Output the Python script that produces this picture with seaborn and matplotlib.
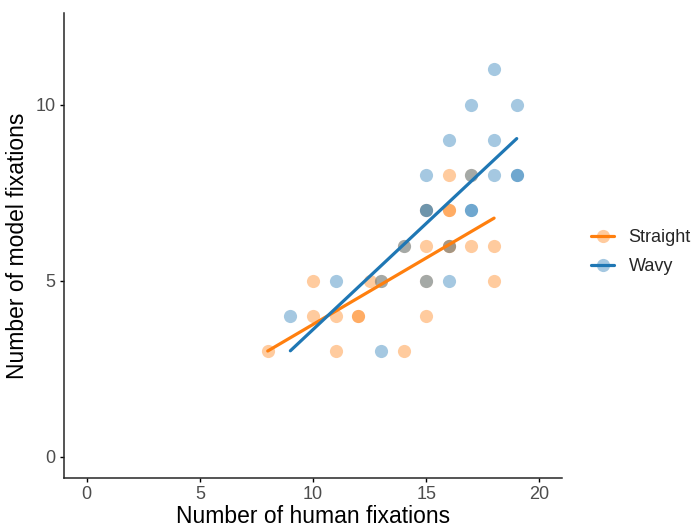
import matplotlib
matplotlib.use("Agg")
import matplotlib.pyplot as plt
import seaborn as sns
import pandas as pd
from matplotlib.lines import Line2D

straight_x = [8, 11, 14, 10, 11, 12, 12, 15, 10, 12.5, 13, 15, 18, 14, 15, 16, 16, 17, 18, 15, 16, 16, 16, 17]
straight_y = [3, 3, 3, 4, 4, 4, 4, 4, 5, 5, 5, 5, 5, 6, 6, 6, 6, 6, 6, 7, 7, 7, 8, 8]
wavy_x = [13, 9, 11, 13, 15, 16, 14, 16, 15, 15, 17, 17, 15, 17, 18, 19, 19, 16, 18, 17, 19, 18]
wavy_y = [3, 4, 5, 5, 5, 5, 6, 6, 7, 7, 7, 7, 8, 8, 8, 8, 8, 9, 9, 10, 10, 11]
groups = ["Straight", "Wavy"]
colors = {"Straight": "#ff7f0e", "Wavy": "#1f77b4"}

df = pd.concat([
    pd.DataFrame({"human": straight_x, "model": straight_y, "group": "Straight"}),
    pd.DataFrame({"human": wavy_x, "model": wavy_y, "group": "Wavy"}),
])

sns.set_theme(style="ticks")
plt.rcParams['font.family'] = ['Liberation Sans', 'DejaVu Sans']

fig = plt.figure(figsize=(6.95, 5.29), dpi=100)
ax = fig.add_axes([64/695, 1-478/529, (562-64)/695, (478-13)/529])

for g in groups:
    sub = df[df.group == g]
    sns.regplot(data=sub, x="human", y="model", ax=ax, ci=None, color=colors[g],
                scatter_kws=dict(s=90, alpha=0.4, linewidths=0),
                line_kws=dict(lw=2.3))

ax.set_xlim(-1, 21)
ax.set_ylim(-0.6, 12.6)
ax.set_xticks([0, 5, 10, 15, 20])
ax.set_yticks([0, 5, 10])
ax.tick_params(labelsize=13, labelcolor="#4d4d4d", color="black", length=3, width=1, pad=3)
for s in ["top", "right"]:
    ax.spines[s].set_visible(False)
for s in ["left", "bottom"]:
    ax.spines[s].set_linewidth(1.1)
ax.set_xlabel("Number of human fixations", fontsize=16.5, labelpad=1, color="black")
ax.set_ylabel("Number of model fixations", fontsize=16.5, labelpad=5, color="black")

handles = []
for g in groups:
    h = Line2D([0], [0], color=colors[g], lw=2.3, marker='o', markersize=9.5,
               markerfacecolor=matplotlib.colors.to_rgba(colors[g], 0.4),
               markeredgecolor=matplotlib.colors.to_rgba(colors[g], 0.0), markeredgewidth=0)
    handles.append(h)
leg = fig.legend(handles, groups, loc="center left", bbox_to_anchor=(586/695, 1-252/529),
                 frameon=False, fontsize=13, handlelength=1.25, handletextpad=0.8,
                 labelspacing=0.65, borderaxespad=0, borderpad=0.3)

fig.savefig("out.png", dpi=100)
